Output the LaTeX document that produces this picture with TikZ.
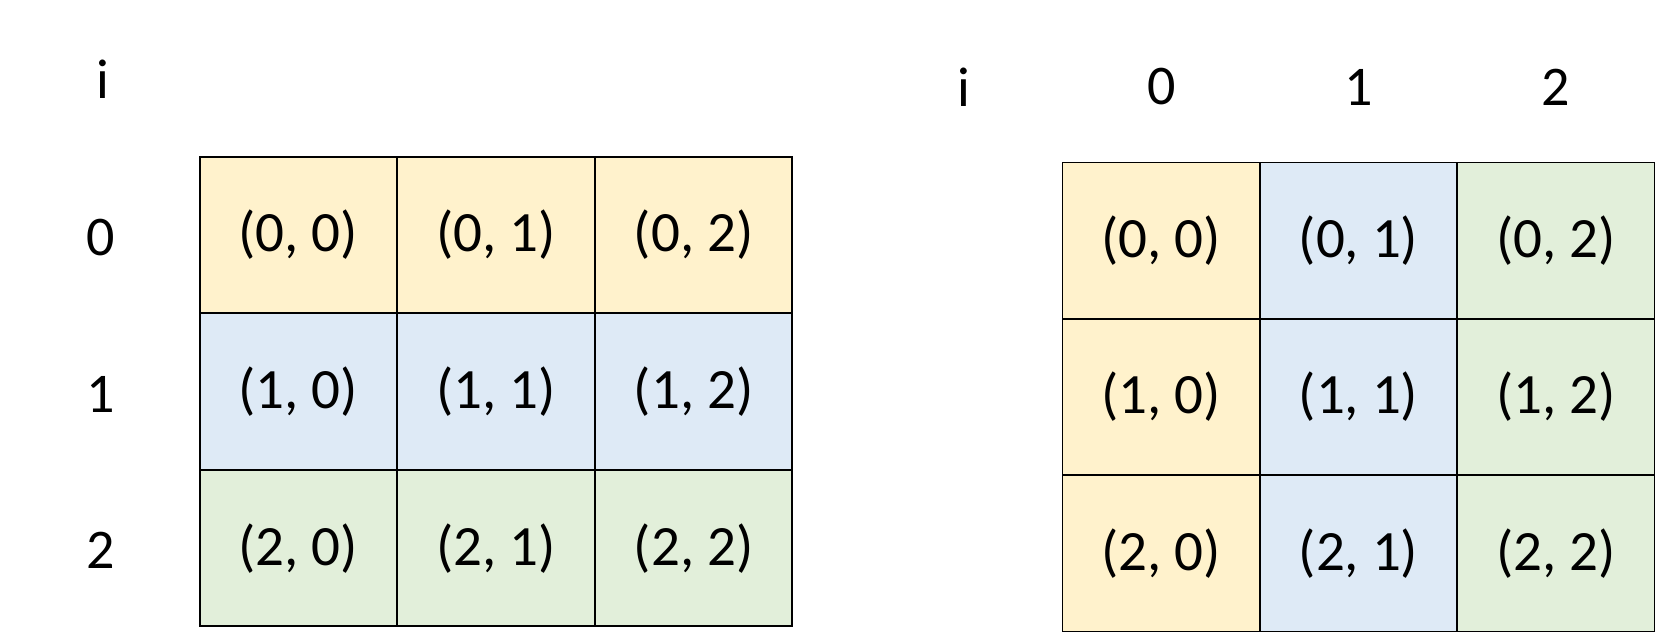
\documentclass[tikz,border=0pt]{standalone}
\usepackage{fontspec}
\setmainfont{Carlito}
\usepackage{xcolor}
\usetikzlibrary{matrix, positioning}
\definecolor{cellYellow}{HTML}{FFF2CC}
\definecolor{cellBlue}{HTML}{DEEAF6}
\definecolor{cellGreen}{HTML}{E2EFDA}
\tikzset{
    grid/.style={
        matrix of nodes,
        nodes={
            draw=black,
            line width=0.75pt,
            minimum width=98.5pt,
            minimum height=78pt,
            anchor=center,
            font=\fontsize{28.5}{32}\selectfont
        },
        column sep=-\pgflinewidth,
        row sep=-\pgflinewidth,
        inner sep=0pt
    },
    idx/.style={font=\fontsize{28}{32}\selectfont, inner sep=0pt}
}
\begin{document}
\begin{tikzpicture}[x=0.5pt, y=-0.5pt]
        \useasboundingbox (0,0) rectangle (1659,637);
        
        % row-wise colouring
        \matrix[grid,
            row 1/.style={nodes={fill=cellYellow}},
            row 2/.style={nodes={fill=cellBlue}},
            row 3/.style={nodes={fill=cellGreen}}] (Left) at (496,391.5) {
            (0, 0) & (0, 1) & (0, 2) \\
            (1, 0) & (1, 1) & (1, 2) \\
            (2, 0) & (2, 1) & (2, 2) \\
        };
        
        % column-wise colouring
        \matrix[grid,
            column 1/.style={nodes={fill=cellYellow}},
            column 2/.style={nodes={fill=cellBlue}},
            column 3/.style={nodes={fill=cellGreen}}] (Right) at (1358.5,397) {
            (0, 0) & (0, 1) & (0, 2) \\
            (1, 0) & (1, 1) & (1, 2) \\
            (2, 0) & (2, 1) & (2, 2) \\
        };
        
        \node[idx] (LeftI) at (103,79) {i};
        \node[idx] (LeftR0) at (101,238) {0};
        \node[idx] (LeftR1) at (101,394) {1};
        \node[idx] (LeftR2) at (101,550) {2};
        
        \node[idx] (RightI) at (964,87) {i};
        \node[idx] (RightC0) at (1161.5,87) {0};
        \node[idx] (RightC1) at (1358.5,87) {1};
        \node[idx] (RightC2) at (1555.5,87) {2};
    \end{tikzpicture}
\end{document}
